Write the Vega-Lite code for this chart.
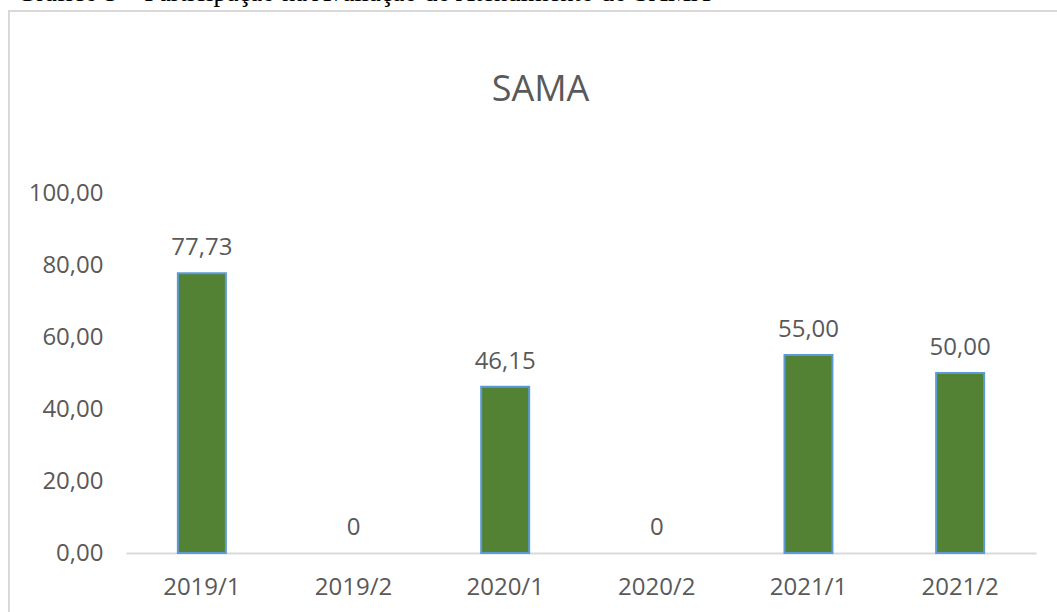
{
  "$schema": "https://vega.github.io/schema/vega-lite/v6.json",
  "width": 1050,
  "height": 603,
  "autosize": {"type": "none"},
  "padding": {"left": 9, "top": 11, "right": -2, "bottom": -2},
  "background": "white",
  "config": {"view": {"stroke": "#D9D9D9", "strokeWidth": 2}},
  "title": {
    "text": "Gráfico 5 – Participação na Avaliação do Atendimento do SAMA",
    "anchor": "start", "frame": "group", "orient": "top", "offset": -16,
    "baseline": "alphabetic", "dx": 8,
    "font": "Liberation Serif", "fontSize": 26.5, "fontWeight": "normal", "color": "#000000"
  },
  "data": {"values": [
    {"periodo": "2019/1", "valor": 77.73},
    {"periodo": "2019/2", "valor": 0},
    {"periodo": "2020/1", "valor": 46.15},
    {"periodo": "2020/2", "valor": 0},
    {"periodo": "2021/1", "valor": 55.00},
    {"periodo": "2021/2", "valor": 50.00}
  ]},
  "transform": [
    {"calculate": "datum.valor == 0 ? '0' : replace(format(datum.valor, '.2f'), '.', ',')", "as": "rotulo"}
  ],
  "encoding": {
    "x": {
      "field": "periodo", "type": "nominal",
      "sort": ["2019/1", "2019/2", "2020/1", "2020/2", "2021/1", "2021/2"],
      "scale": {"range": [117, 1027], "paddingInner": 0.6835, "paddingOuter": 0.342},
      "axis": {
        "title": null, "orient": "bottom", "offset": -61,
        "ticks": false, "labelPadding": 22, "labelAngle": 0,
        "domain": true, "domainColor": "#D9D9D9", "domainWidth": 2,
        "labelFont": "Open Sans", "labelFontSize": 24, "labelColor": "#595959",
        "grid": false
      }
    },
    "y": {
      "field": "valor", "type": "quantitative",
      "scale": {"domain": [0, 100], "range": [542, 182], "nice": false, "zero": true},
      "axis": {
        "orient": "left", "offset": -100,
        "values": [0, 20, 40, 60, 80, 100],
        "labelExpr": "replace(format(datum.value, '.2f'), '.', ',')",
        "ticks": false, "domain": false, "grid": false, "labelPadding": 6,
        "labelFont": "Open Sans", "labelFontSize": 24, "labelColor": "#595959",
        "title": "SAMA", "titleAngle": 0, "titleX": 431, "titleY": 89,
        "titleAlign": "center", "titleBaseline": "alphabetic",
        "titleFont": "Open Sans", "titleFontSize": 36, "titleFontWeight": "normal", "titleColor": "#595959"
      }
    }
  },
  "layer": [
    {
      "transform": [{"filter": "datum.valor > 0"}],
      "mark": {"type": "bar", "fill": "#548235", "stroke": "#5B9BD5", "strokeWidth": 2}
    },
    {
      "mark": {"type": "text", "baseline": "alphabetic", "dy": -18, "font": "Open Sans", "fontSize": 24, "color": "#595959"},
      "encoding": {"text": {"field": "rotulo"}}
    }
  ]
}
